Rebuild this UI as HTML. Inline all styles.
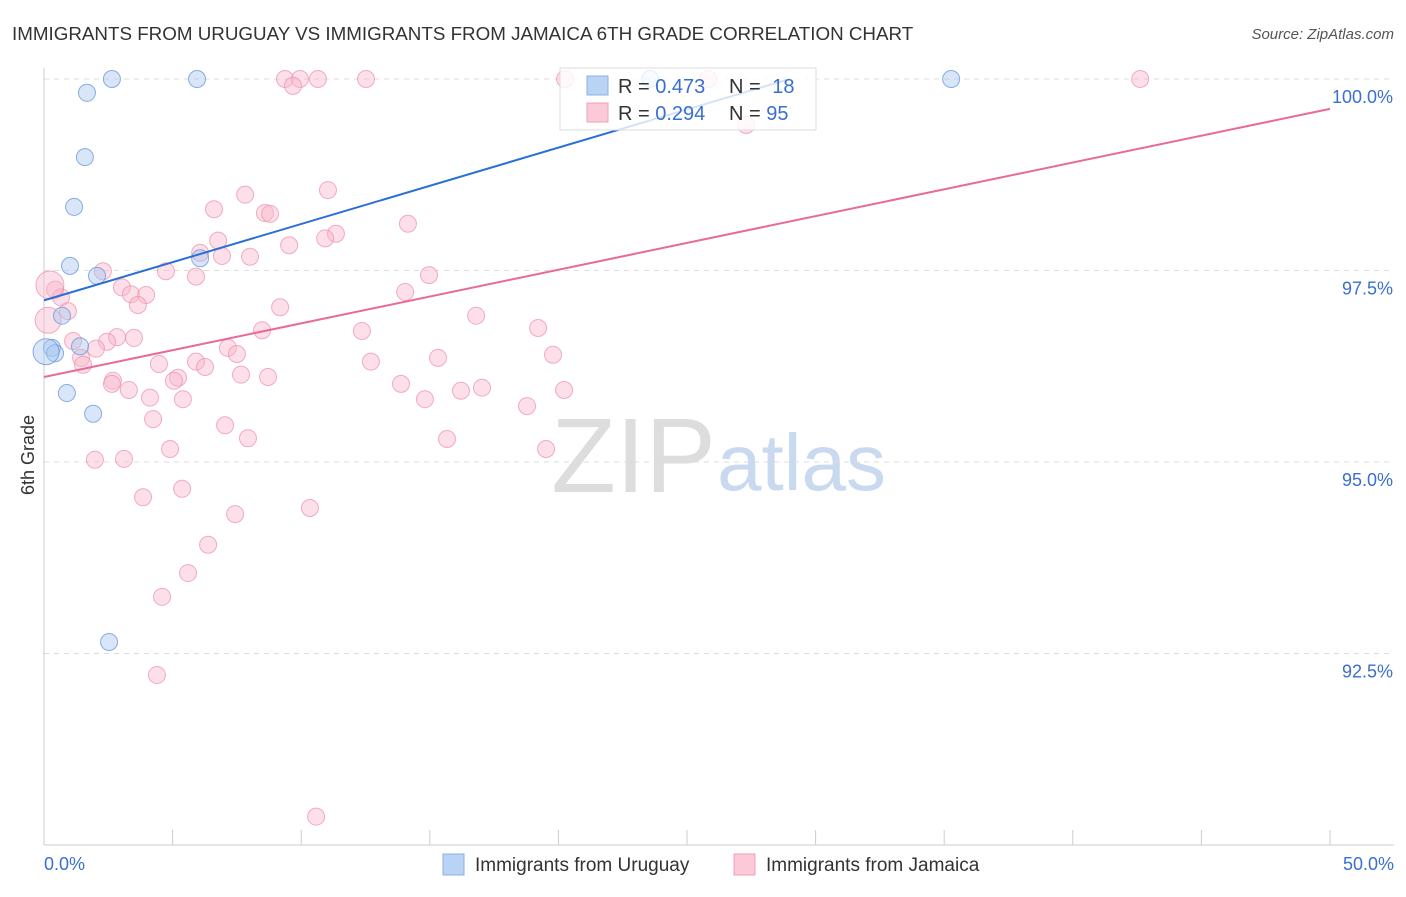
<!DOCTYPE html>
<html><head><meta charset="utf-8"><style>
body{margin:0;background:#fff;font-family:"Liberation Sans",sans-serif;}
svg text{font-family:"Liberation Sans",sans-serif;}
</style></head><body>
<svg id="chart" width="1406" height="892" viewBox="0 0 1406 892">
<text x="12" y="40" font-size="18.8" fill="#333">IMMIGRANTS FROM URUGUAY VS IMMIGRANTS FROM JAMAICA 6TH GRADE CORRELATION CHART</text>
<text x="1394" y="39" font-size="15" fill="#555" text-anchor="end" font-style="italic">Source: ZipAtlas.com</text>
<text x="34" y="455" font-size="18" fill="#333" text-anchor="middle" transform="rotate(-90 34 455)">6th Grade</text>
<text x="716" y="492" font-size="106" fill="#ddd" text-anchor="end" font-family="Liberation Serif">ZIP</text>
<text x="717" y="490" font-size="80" fill="#c9d9f0">atlas</text>
<g id="grid"></g><g id="axes"></g><g id="pts"></g><g id="lines"></g>
<g>
<rect x="560" y="68" width="256" height="62" fill="#fff" fill-opacity="0.8" stroke="#ddd"/>
<rect x="587" y="76" width="21" height="19" fill="#b9d3f5" stroke="#8ab0e6"/>
<rect x="587" y="103" width="21" height="19" fill="#fcc9d8" stroke="#f0a0b8"/>
<text x="618" y="93" font-size="20" fill="#333">R = <tspan fill="#3a6fd0">0.473</tspan></text>
<text x="729" y="93" font-size="20" fill="#333">N = <tspan fill="#3a6fd0" dx="6">18</tspan></text>
<text x="618" y="120" font-size="20" fill="#333">R = <tspan fill="#3a6fd0">0.294</tspan></text>
<text x="729" y="120" font-size="20" fill="#333">N = <tspan fill="#3a6fd0">95</tspan></text>
</g>
<g>
<rect x="443" y="854" width="21" height="21" fill="#b9d3f5" stroke="#8ab0e6"/>
<text x="475" y="871" font-size="19" fill="#333">Immigrants from Uruguay</text>
<rect x="734" y="854" width="21" height="21" fill="#fcc9d8" stroke="#f0a0b8"/>
<text x="766" y="871" font-size="19" fill="#333">Immigrants from Jamaica</text>
</g>
</svg>
<script>
const yTicks=[100,97.5,95,92.5];
const yTickLabels=["100.0%","97.5%","95.0%","92.5%"];
const xTickCount=10;
const xEndLabels=["0.0%","50.0%"];
const uruguayX=[2.64,5.95,1.67,1.59,1.17,1.01,2.06,0.70,0.31,0.43,1.40,0.89,1.91,2.53,6.07,35.27,0.08,23.57];
const uruguayY=[100,100,99.82,98.98,98.33,97.56,97.43,96.91,96.49,96.42,96.51,95.90,95.63,92.65,97.66,100,96.44,100];
const jamaicaX=[9.37,9.95,10.65,12.52,9.68,20.26,25.82,42.62,27.30,11.04,7.82,6.61,8.59,8.79,14.15,11.35,10.93,6.77,9.53,6.07,6.92,8.01,2.29,4.74,14.97,5.91,3.03,0.43,3.38,3.97,0.66,3.65,9.18,14.04,0.93,16.80,19.21,8.48,12.36,2.84,3.50,2.45,1.13,2.02,7.15,7.50,19.79,15.32,1.44,1.52,4.47,5.91,6.26,12.71,7.66,8.71,5.21,5.05,2.68,2.64,13.88,3.30,17.03,16.21,20.22,4.12,5.40,14.81,18.78,4.24,7.04,7.93,15.67,4.90,19.52,1.98,3.11,5.37,3.85,10.34,7.43,6.38,5.60,4.59,4.39,10.58,0.23,0.16];
const jamaicaY=[100,100,100,100,99.91,100,100,100,99.40,98.55,98.49,98.30,98.25,98.24,98.11,97.98,97.92,97.89,97.83,97.73,97.69,97.68,97.49,97.49,97.44,97.42,97.28,97.25,97.19,97.18,97.15,97.05,97.02,97.22,96.97,96.91,96.75,96.72,96.71,96.63,96.62,96.57,96.58,96.48,96.49,96.41,96.40,96.36,96.36,96.27,96.28,96.31,96.24,96.31,96.14,96.11,96.10,96.06,96.06,96.02,96.02,95.94,95.97,95.93,95.94,95.84,95.82,95.82,95.73,95.56,95.48,95.31,95.30,95.17,95.17,95.03,95.04,94.65,94.54,94.40,94.32,93.92,93.55,93.24,92.22,90.37,97.31,96.85];
const uruguayFit=[97.11,0.0997];
const jamaicaFit=[96.11,0.070];
const NS="http://www.w3.org/2000/svg";
const X=v=>44+v/50*1286, Y=v=>79+(100-v)/10*766;
function mk(t,a,p){const e=document.createElementNS(NS,t);for(const k in a)e.setAttribute(k,a[k]);p.appendChild(e);return e;}
const grid=document.getElementById('grid'),axes=document.getElementById('axes'),pts=document.getElementById('pts'),lines=document.getElementById('lines');
yTicks.forEach((t,i)=>{
 const g=mk('line',{x1:44,x2:1394,y1:Y(t),y2:Y(t),stroke:'#ddd','stroke-dasharray':'5,5'},grid);
 
 
 const l=mk('text',{x:1393,y:Y(t)+24,'font-size':18,fill:'#3a6fd0','text-anchor':'end'},axes);
 l.textContent=yTickLabels[i];
 
 
});
const ax=mk('line',{x1:44,x2:44,y1:68,y2:845,stroke:'#ccc'},axes);


const bx=mk('line',{x1:44,x2:1394,y1:845,y2:845,stroke:'#ccc'},axes);


for(let i=0;i<=xTickCount;i++){
 const v=i*50/xTickCount;
 const t=mk('line',{x1:X(v),x2:X(v),y1:830,y2:845,stroke:'#ccc'},axes);
 
 
}
[[0,'start',xEndLabels[0]],[50,'end',xEndLabels[1]]].forEach((d,i)=>{
 const l=mk('text',{x:i?1394:44,y:870,'font-size':18,fill:'#3a6fd0','text-anchor':d[1]},axes);
 l.textContent=d[2];
 
 
});
function dots(xs,ys,fill,stroke,name){
 xs.forEach((x,i)=>{
  let r=8.5;
  if(name==='jamaica-point'&&i===xs.length-2)r=14;
  if(name==='jamaica-point'&&i===xs.length-1)r=13;
  if(name==='uruguay-point'&&i===xs.length-2)r=13;
  const c=mk('circle',{cx:X(x),cy:Y(ys[i]),r:r,fill:fill,'fill-opacity':0.45,stroke:stroke,'stroke-opacity':0.7,'stroke-width':1},pts);
  
  
 });
}
dots(jamaicaX,jamaicaY,'#f8b8cc','#eb8fab','jamaica-point');
dots(uruguayX,uruguayY,'#a9c8f0','#5b8fd8','uruguay-point');
const bl=mk('line',{x1:X(0),y1:Y(uruguayFit[0]),x2:X(29),y2:Y(uruguayFit[0]+29*uruguayFit[1]),stroke:'#2a6fd6','stroke-width':2},lines);


const pl=mk('line',{x1:X(0),y1:Y(jamaicaFit[0]),x2:X(50),y2:Y(jamaicaFit[0]+50*jamaicaFit[1]),stroke:'#e8699a','stroke-width':2},lines);


</script>
</body></html>
